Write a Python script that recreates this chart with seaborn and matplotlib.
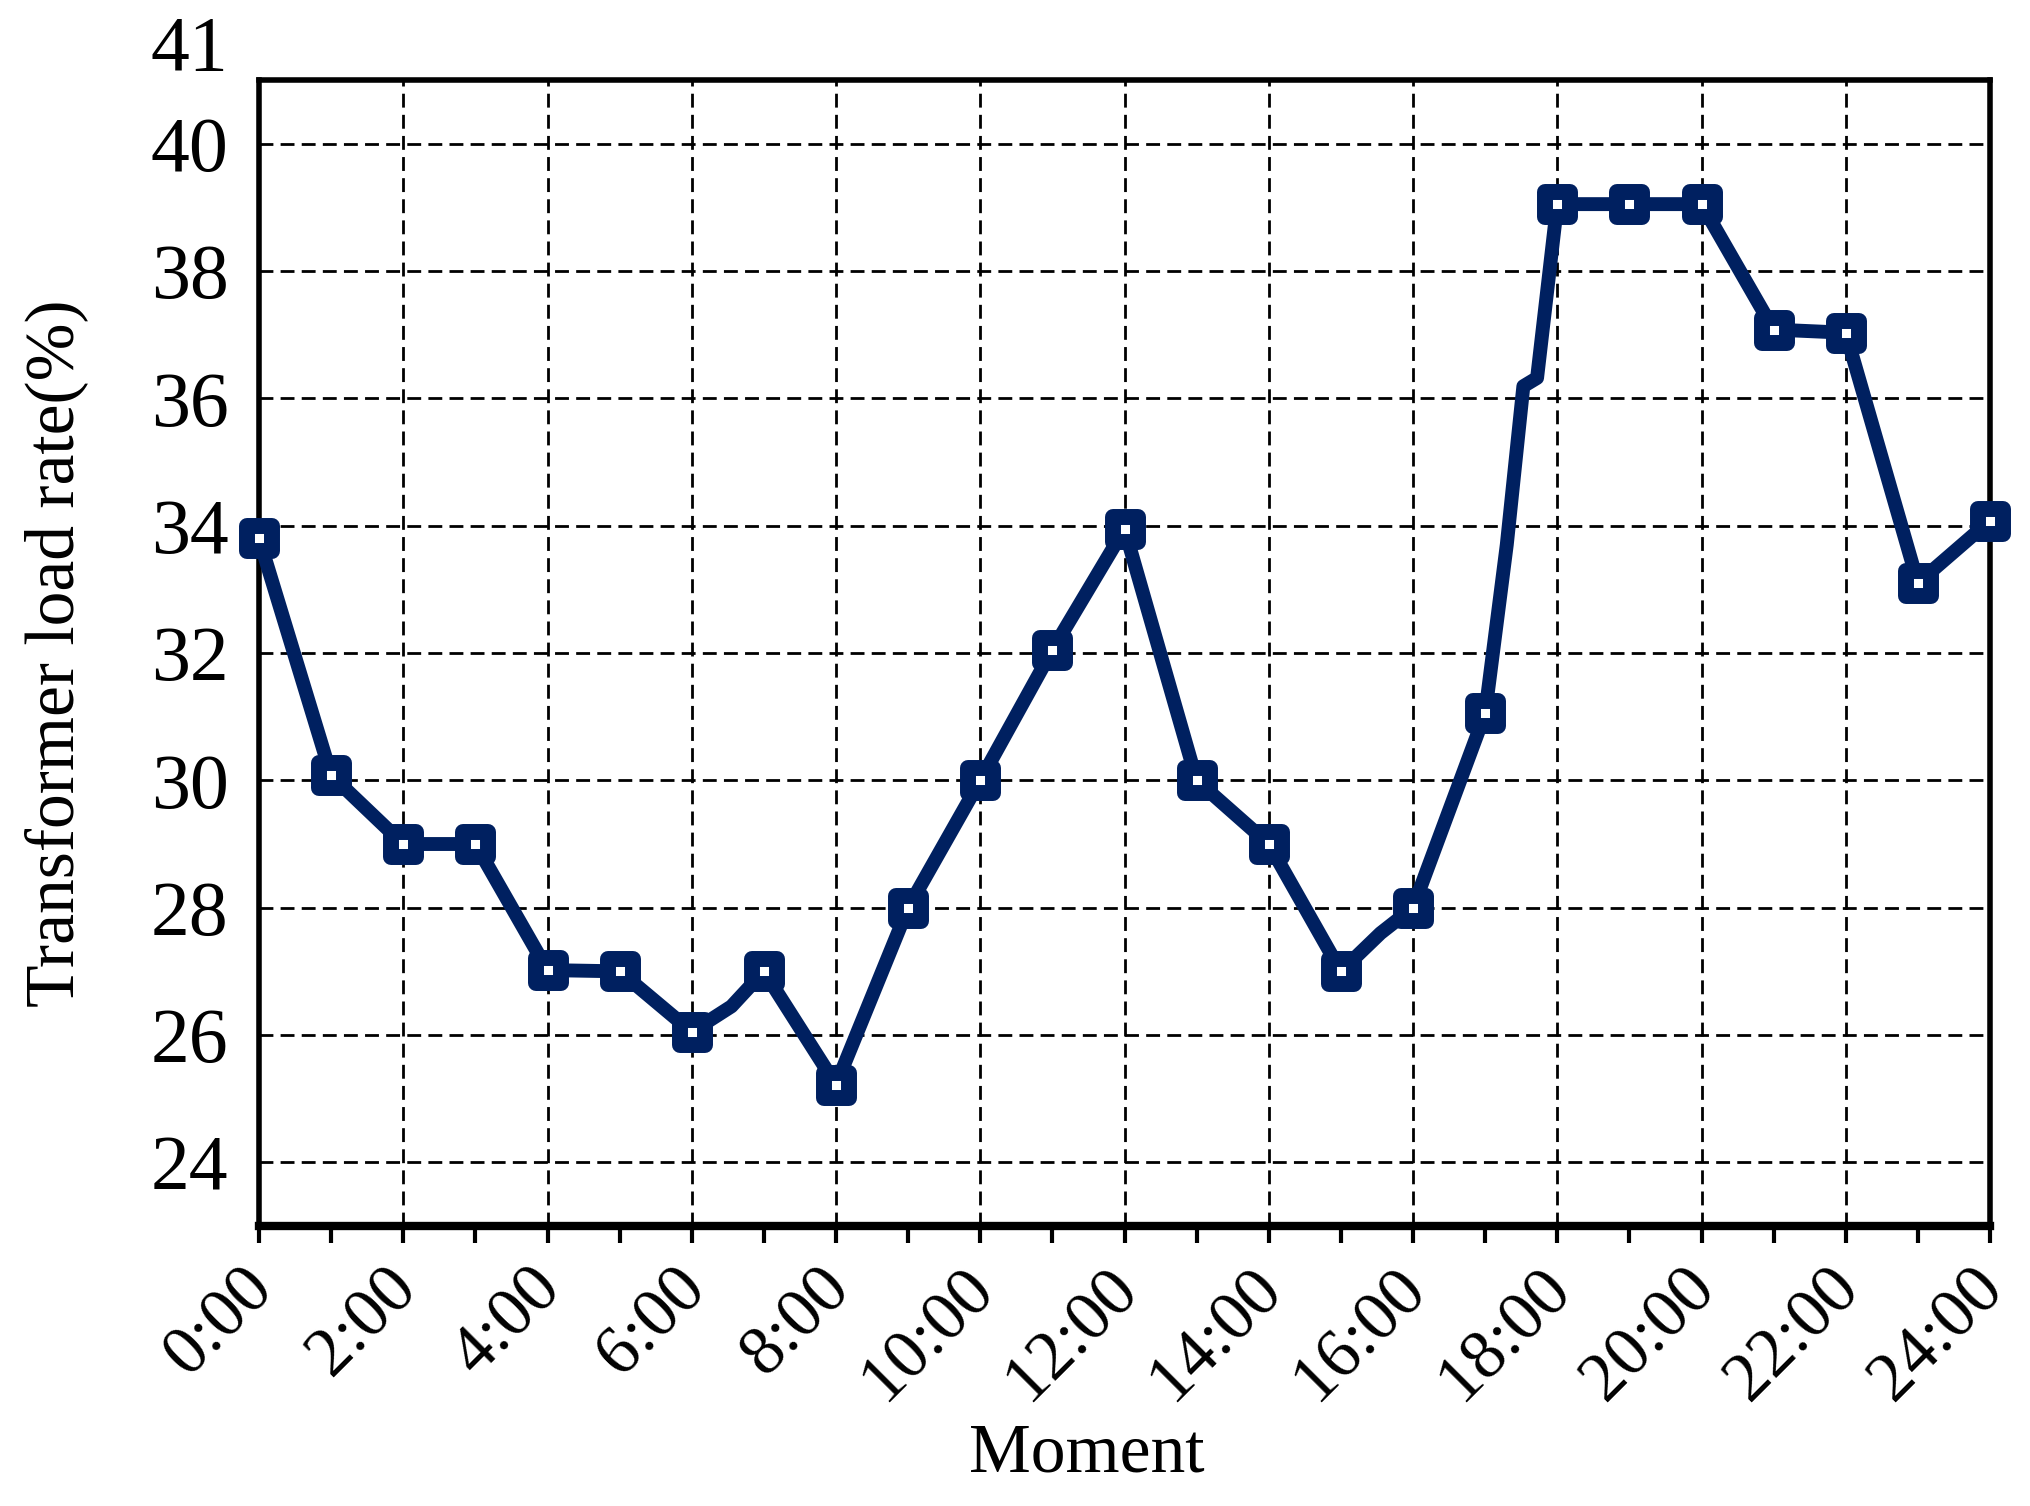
import numpy as np
import pandas as pd
import matplotlib
matplotlib.use('Agg')
import matplotlib.pyplot as plt
import matplotlib.transforms as mtransforms
from matplotlib.markers import MarkerStyle
import seaborn as sns

# hour of day and transformer load rate (%)
hours = [0, 1, 2, 3, 4, 5, 6, 6.55, 7, 8, 9, 10, 11, 12, 13, 14, 15, 15.55, 16,
         17, 17.3, 17.53, 17.72, 18, 19, 20, 21, 22, 23, 24]
load = [33.8, 30.08, 29.0, 29.0, 27.02, 27.0, 26.05, 26.45, 27.0, 25.22, 28.0,
        30.0, 32.05, 33.95, 30.0, 29.0, 27.0, 27.6, 28.0,
        31.05, 33.7, 36.19, 36.32, 39.05, 39.05, 39.05, 37.08, 37.03, 33.1, 34.08]

xtick_hours = list(range(0, 25, 2))
xtick_labels = [f'{h}:00' for h in xtick_hours]
ytick_values = [24, 26, 28, 30, 32, 34, 36, 38, 40]
top_label = '41'

df = pd.DataFrame({'hour': hours, 'load': load})
marked = df[df['hour'] % 1 == 0]

navy = '#002060'

sns.set_theme(style='white')
plt.rcParams['font.family'] = ['Liberation Serif', 'DejaVu Serif']
plt.rcParams['text.color'] = 'black'
plt.rcParams['axes.labelcolor'] = 'black'
plt.rcParams['xtick.color'] = 'black'
plt.rcParams['ytick.color'] = 'black'

fig = plt.figure(figsize=(20.3, 15.06), dpi=100)
ax = fig.add_axes([0.1276, 0.1859, 0.8527, 0.761])

sns.lineplot(data=df, x='hour', y='load', color=navy, lw=10, ax=ax,
             clip_on=False, solid_joinstyle='round', zorder=3)
sq = MarkerStyle('s', joinstyle='round')
sns.lineplot(data=marked, x='hour', y='load', ax=ax, linestyle='none',
             marker=sq, ms=18, mew=11.5, mfc='white', mec=navy,
             clip_on=False, zorder=4)

ax.set_xlim(0, 24)
ax.set_ylim(23, 41)
ax.set_xticks(xtick_hours)
ax.set_xticklabels(xtick_labels, rotation=45, ha='right', va='center',
                   rotation_mode='anchor')
ax.set_xticks(range(0, 25), minor=True)
ax.set_yticks(ytick_values)
ax.set_yticklabels([str(v) for v in ytick_values])

ax.tick_params(axis='x', which='both', direction='out', length=12, width=3,
               color='black', bottom=True, labelsize=50, labelcolor='black', pad=26)
ax.tick_params(axis='y', length=0, labelsize=56, labelcolor='black', pad=22)
for lab in ax.get_xticklabels():
    lab.set_transform(lab.get_transform() +
                      mtransforms.ScaledTranslation(0.04, 0, fig.dpi_scale_trans))

# the top "41" label sits above the frame in the original
ax.text(-22 / 72 * 100 / 1731, 41.45, top_label, transform=ax.get_yaxis_transform(),
        ha='right', va='center', fontsize=56, color='black', clip_on=False)

ax.grid(True, which='major', color='black', linestyle=(0, (5, 2.6)), lw=2)
ax.set_axisbelow(True)

for side in ['left', 'right', 'top']:
    ax.spines[side].set_linewidth(4)
    ax.spines[side].set_color('black')
ax.spines['bottom'].set_linewidth(6)
ax.spines['bottom'].set_color('black')

ax.set_xlabel('Moment', fontsize=50, color='black')
ax.set_ylabel('Transformer load rate(%)', fontsize=50, color='black')
ax.xaxis.set_label_coords(0.478, -0.172)
ax.yaxis.set_label_coords(-0.099, 0.5)

plt.savefig('out.png', dpi=100)
